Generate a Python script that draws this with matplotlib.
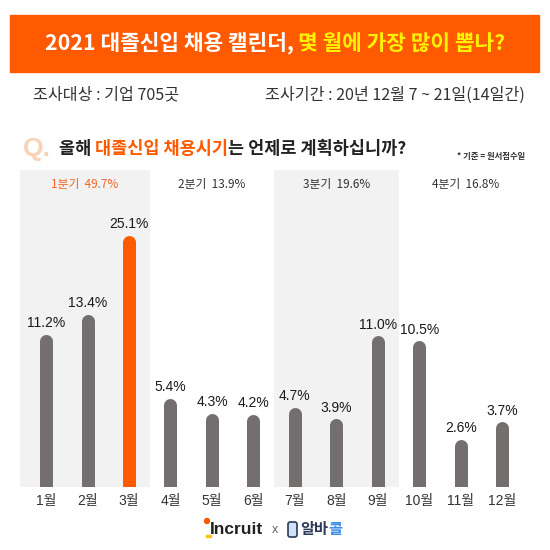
import matplotlib
matplotlib.use('Agg')
import matplotlib.pyplot as plt
import matplotlib.transforms as mtransforms
from matplotlib.patches import Rectangle, FancyBboxPatch, Circle
import numpy as np

plt.rcParams['font.family'] = ['Noto Sans CJK KR', 'DejaVu Sans']

# data
months = ['1월', '2월', '3월', '4월', '5월', '6월', '7월', '8월', '9월', '10월', '11월', '12월']
values = [11.2, 13.4, 25.1, 5.4, 4.3, 4.2, 4.7, 3.9, 11.0, 10.5, 2.6, 3.7]
quarters = ['1분기', '2분기', '3분기', '4분기']
quarter_values = [49.7, 13.9, 19.6, 16.8]
highlight = 2  # 3월

ORANGE = '#FF5A00'
GREY = '#736F6E'
DARK = '#333333'
LATIN = ['Liberation Sans', 'Noto Sans CJK KR']

W = H = 550
fig = plt.figure(figsize=(5.5, 5.5), dpi=100)
fig.patch.set_facecolor('white')


def fx(x):
    return x / W


def fy(y):
    return 1 - y / H


def pieces_text(x, y, parts, ha='left', **kw):
    # draw several coloured pieces of text on one line, x/y in pixels from top-left
    r = fig.canvas.get_renderer()
    texts = []
    for s, c, extra in parts:
        opts = dict(kw)
        opts.update(extra)
        t = fig.text(0, fy(y), s, color=c, va='center', ha='left', **opts)
        texts.append(t)
    widths = [t.get_window_extent(r).width for t in texts]
    start = x - sum(widths) / 2 if ha == 'center' else x
    for t, w in zip(texts, widths):
        t.set_x(fx(start))
        start += w


# orange banner
fig.patches.append(Rectangle((fx(10), fy(72)), 529 / W, 57 / H, transform=fig.transFigure,
                             color=ORANGE, zorder=0))
pieces_text(275, 43, [('2021 대졸신입 채용 캘린더, ', 'white', {}),
                      ('몇 월에 가장 많이 뽑나?', '#FFF200', {})],
            ha='center', fontsize=15.4, fontweight='bold')

# survey info
fig.text(fx(33), fy(95), '조사대상 : 기업 705곳', fontsize=11.6, color=DARK, va='center')
fig.text(fx(265), fy(95), '조사기간 : 20년 12월 7 ~ 21일(14일간)', fontsize=11.6, color=DARK,
         va='center')

# question line
fig.text(fx(23), fy(149), 'Q.', fontsize=19, fontweight='bold', color='#FAD2B5', va='center',
         family=LATIN)
pieces_text(59, 149, [('올해 ', '#222222', {}),
                      ('대졸신입 채용시기', ORANGE, {}),
                      ('는 언제로 계획하십니까?', '#222222', {})],
            fontsize=12.6, fontweight='bold')
fig.text(fx(525), fy(157), '* 기준 = 원서접수일', fontsize=6, fontweight='bold', color=DARK,
         ha='right', va='center')

# chart
ax = fig.add_axes([fx(20), 63 / H, 512 / W, 317 / H])
x = np.arange(len(months))
ax.set_yscale('function', functions=(lambda v: np.log1p(v / 9), lambda u: 9 * np.expm1(u)))
ax.set_xlim(-0.63, 11.72)
ax.set_ylim(0, 39.1)

edges = [-0.63, 2.5, 5.5, 8.5, 11.72]
for q in range(4):
    if q % 2 == 0:
        ax.axvspan(edges[q], edges[q + 1], color='#F2F2F2', zorder=0, lw=0)
    ax.text((edges[q] + edges[q + 1]) / 2, 0.953, f'{quarters[q]}  {quarter_values[q]}%',
            transform=ax.get_xaxis_transform(), ha='center', va='center', fontsize=8.5,
            color='#F26522' if q == 0 else DARK, family=['Noto Sans CJK KR', 'DejaVu Sans'])

# rounded-top bars: thick lines with round caps, shifted down by the cap radius
bar_px = 13
off = mtransforms.offset_copy(ax.transData, fig=fig, x=0, y=-bar_px / 2 * 72 / fig.dpi,
                              units='points')
colors = [ORANGE if i == highlight else GREY for i in x]
ax.vlines(x, 0, values, colors=colors, linewidth=bar_px * 72 / fig.dpi, capstyle='round',
          transform=off, zorder=2)

for i, v in zip(x, values):
    ax.annotate(f'{v:.1f}%', (i, v), xytext=(0, 3), textcoords='offset points',
                ha='center', va='bottom', fontsize=10, color='#1a1a1a', family=LATIN)

ax.set_xticks(x, months)
ax.set_yticks([])
ax.tick_params(axis='x', length=0, pad=5, labelsize=10, labelcolor=DARK)
for lbl in ax.get_xticklabels():
    lbl.set_family(LATIN)
for s in ax.spines.values():
    s.set_visible(False)

# footer logos
fig.patches.append(Circle((fx(207), fy(521)), 2.5 / W, transform=fig.transFigure,
                          color=ORANGE, zorder=3))
fig.patches.append(Rectangle((fx(206), fy(537)), 5 / W, 2 / H, transform=fig.transFigure,
                             color='#FFC20E', zorder=3))
fig.text(fx(210), fy(529), 'Incruit', fontsize=12.5, fontweight='bold', color='#222222',
         va='center', family=LATIN)
fig.text(fx(272), fy(530), 'x', fontsize=9, color='#666666', va='center', family=LATIN)
fig.patches.append(FancyBboxPatch((fx(288), fy(537)), 9 / W, 15 / H,
                                  boxstyle='round,pad=0,rounding_size=0.004',
                                  transform=fig.transFigure, facecolor='#CFE3F8',
                                  edgecolor='#2E3A59', lw=1.2, zorder=3))
pieces_text(300, 529, [('알바', '#2E3A59', {}), ('콜', '#3A8EE6', {})],
            fontsize=11, fontweight='bold')

fig.savefig('out.png', dpi=100)
